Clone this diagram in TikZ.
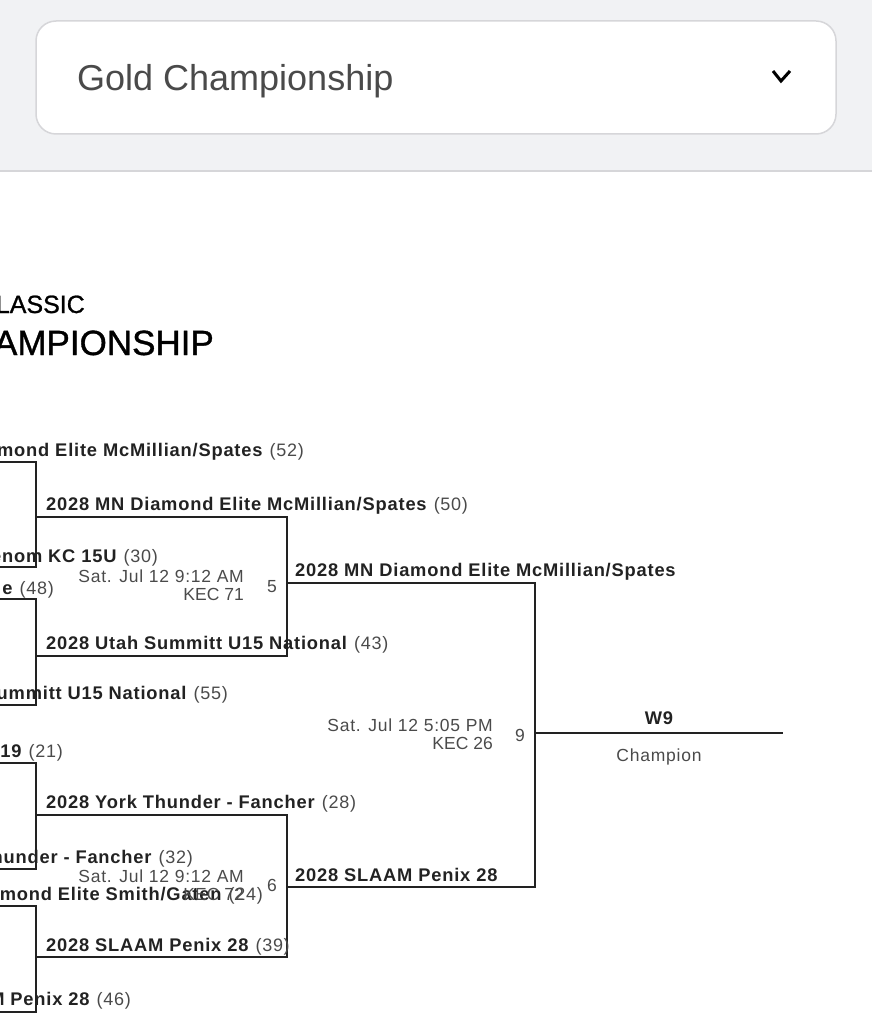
\documentclass[tikz,border=0pt]{standalone}
\usepackage{fontspec}
\setmainfont{Liberation Sans}
\newfontfamily\medfont[FakeBold=1]{Liberation Sans}
\definecolor{panelgray}{HTML}{F1F2F4}
\definecolor{edgegray}{HTML}{D6D6D9}
\definecolor{inkgray}{HTML}{4A4A4A}
\definecolor{textdark}{HTML}{222222}
\tikzset{
  wire/.style={draw=textdark, line width=1.3pt},
  teamlabel/.style={inner sep=0pt, text=textdark, font=\fontsize{18.3}{20}\selectfont, anchor=base west},
  teamcut/.style={teamlabel, anchor=base east},
  infolabel/.style={inner sep=0pt, text=inkgray, font=\fontsize{17.5}{20}\selectfont, anchor=base east},
  midlabel/.style={infolabel, anchor=base},
}
\newcommand{\teamof}[1]{{\bfseries\addfontfeatures{LetterSpace=4.4}#1}}
\newcommand{\seedof}[2]{\teamof{#1} \hspace{2pt}{\color{inkgray}\fontsize{18}{20}\selectfont\addfontfeatures{LetterSpace=4}(#2)}}
\newcommand{\spaced}[1]{{\addfontfeatures{LetterSpace=4.4}#1}}
\begin{document}
\begin{tikzpicture}[x=1pt, y=-1pt]
  \useasboundingbox (0, 0) rectangle (872, 1024);
  \clip (0, 0) rectangle (872, 1024);
  % top panel
  \fill[panelgray] (0, 0) rectangle (872, 171);
  \draw[edgegray, line width=1.5pt] (0, 171) -- (872, 171);
  \node[draw=edgegray, fill=white, line width=1.5pt, rounded corners=20pt, minimum width=800pt, minimum height=113pt] (selectbox) at (436, 77.5) {};
  \node[inner sep=0pt, anchor=base west, text=inkgray, font=\fontsize{36}{40}\selectfont] (selecttext) at (77, 90.5) {Gold Championship};
  \coordinate (chevleft) at (773, 71);
  \coordinate (chevmid) at (781, 81);
  \coordinate (chevright) at (790, 71);
  \draw[black, line width=3pt] (chevleft) -- (chevmid) -- (chevright);

  % heading
  \node[inner sep=0pt, anchor=base east, font=\fontsize{25}{30}\medfont] (headone) at (85, 313) {LASSIC};
  \node[inner sep=0pt, anchor=base east, font=\fontsize{35}{40}\medfont] (headtwo) at (214, 355) {AMPIONSHIP};

  % bracket corners
  \coordinate (a1) at (0, 462);
  \coordinate (a2) at (36, 462);
  \coordinate (a3) at (36, 567);
  \coordinate (a4) at (0, 567);
  \coordinate (b1) at (0, 599);
  \coordinate (b2) at (36, 599);
  \coordinate (b3) at (36, 705);
  \coordinate (b4) at (0, 705);
  \coordinate (c1) at (0, 763);
  \coordinate (c2) at (36, 763);
  \coordinate (c3) at (36, 869);
  \coordinate (c4) at (0, 869);
  \coordinate (d1) at (0, 906);
  \coordinate (d2) at (36, 906);
  \coordinate (d3) at (36, 1012);
  \coordinate (d4) at (0, 1012);
  \coordinate (e1) at (36, 517);
  \coordinate (e2) at (287, 517);
  \coordinate (e3) at (287, 656);
  \coordinate (e4) at (36, 656);
  \coordinate (f1) at (36, 815);
  \coordinate (f2) at (287, 815);
  \coordinate (f3) at (287, 957);
  \coordinate (f4) at (36, 957);
  \coordinate (g1) at (287, 583);
  \coordinate (g2) at (535, 583);
  \coordinate (g3) at (535, 887);
  \coordinate (g4) at (287, 887);
  \coordinate (h1) at (535, 733);
  \coordinate (h2) at (783, 733);

  \draw[wire] (a1) -- (a2) -- (a3) -- (a4);
  \draw[wire] (b1) -- (b2) -- (b3) -- (b4);
  \draw[wire] (c1) -- (c2) -- (c3) -- (c4);
  \draw[wire] (d1) -- (d2) -- (d3) -- (d4);
  \draw[wire] (e1) -- (e2) -- (e3) -- (e4);
  \draw[wire] (f1) -- (f2) -- (f3) -- (f4);
  \draw[wire] (g1) -- (g2) -- (g3) -- (g4);
  \draw[wire] (h1) -- (h2);

  % first round, cut by the left edge
  \node[teamcut] (ta) at (304, 456) {\seedof{amond Elite McMillian/Spates}{52}};
  \node[teamcut] (tb) at (158, 562) {\seedof{enom KC 15U}{30}};
  \node[teamcut] (tc) at (54, 594) {\seedof{e}{48}};
  \node[teamcut] (td) at (228, 699) {\seedof{ummitt U15 National}{55}};
  \node[teamcut] (te) at (63, 757) {\seedof{419}{21}};
  \node[teamcut] (tf) at (193, 863) {\seedof{hunder - Fancher}{32}};
  \node[teamcut] (tg) at (263, 900) {\seedof{amond Elite Smith/Gaten}{24}};
  \node[teamcut] (th) at (131, 1005) {\seedof{M Penix 28}{46}};

  % second round
  \node[teamlabel] (se) at (46, 510) {\seedof{2028 MN Diamond Elite McMillian/Spates}{50}};
  \node[teamlabel] (sf) at (46, 649) {\seedof{2028 Utah Summitt U15 National}{43}};
  \node[teamlabel] (sg) at (46, 808) {\seedof{2028 York Thunder - Fancher}{28}};
  \node[teamlabel] (sh) at (46, 951) {\seedof{2028 SLAAM Penix 28}{39}};
  \node[teamlabel] (wa) at (295, 576) {\teamof{2028 MN Diamond Elite McMillian/Spates}};
  \node[teamlabel] (wb) at (295, 881) {\teamof{2028 SLAAM Penix 28}};

  % game info
  \node[infolabel] (gamea) at (244, 582) {\spaced{Sat. Jul 12 9:12 AM}};
  \node[infolabel] (courta) at (244, 600) {KEC 71};
  \node[midlabel] (numa) at (272, 592) {5};
  \node[infolabel] (gameb) at (244, 882) {\spaced{Sat. Jul 12 9:12 AM}};
  \node[infolabel] (courtb) at (244, 900) {KEC 72};
  \node[midlabel] (numb) at (272, 891) {6};
  \node[infolabel] (gamec) at (493, 731) {\spaced{Sat. Jul 12 5:05 PM}};
  \node[infolabel] (courtc) at (493, 749) {KEC 26};
  \node[midlabel] (numc) at (520, 741) {9};
  \node[teamlabel, anchor=base] (wnine) at (659, 724) {\teamof{W9}};
  \node[midlabel] (champ) at (659, 761) {\spaced{Champion}};
\end{tikzpicture}
\end{document}
